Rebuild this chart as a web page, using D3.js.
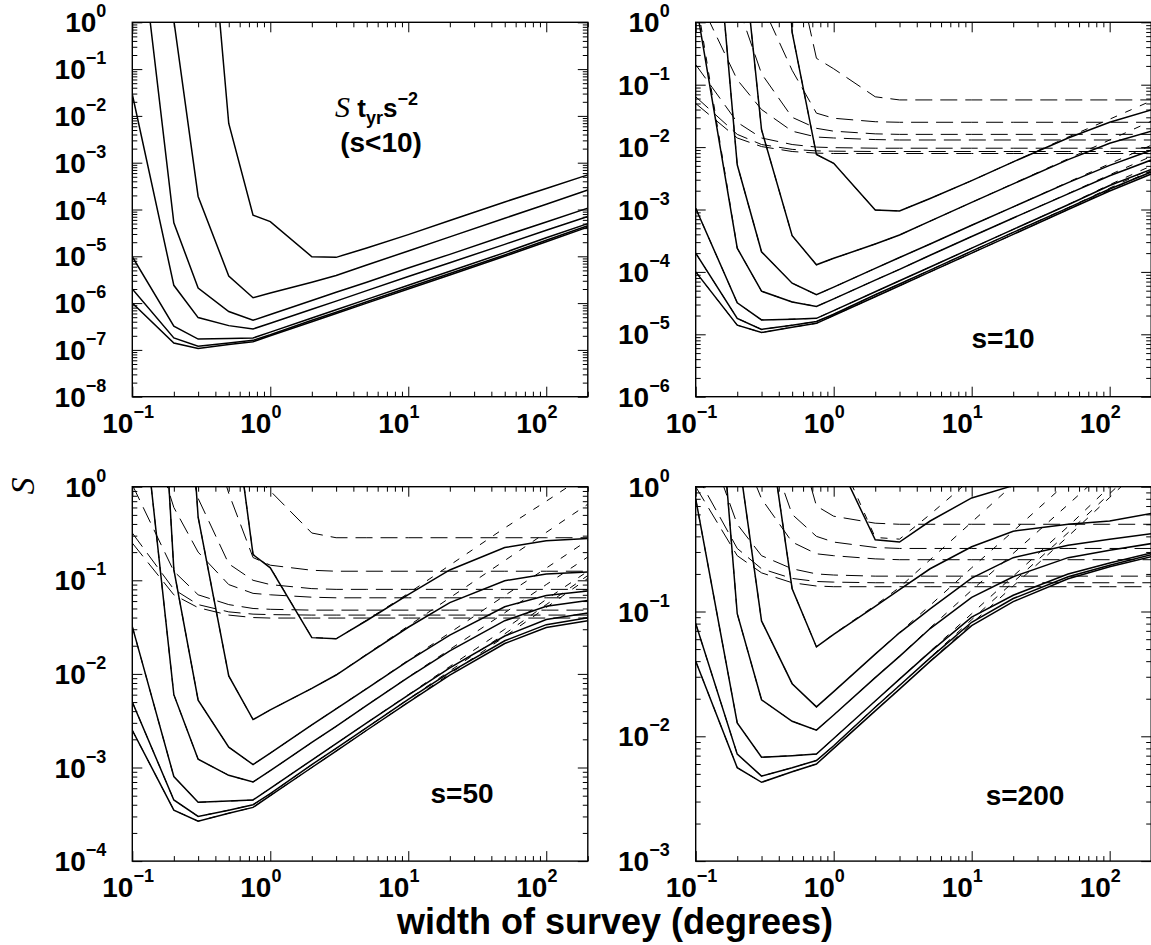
<!DOCTYPE html>
<html><head><meta charset="utf-8">
<script src="https://cdn.jsdelivr.net/npm/d3@7"></script>
<style>body{margin:0;background:#fff}svg{display:block}</style>
</head><body>
<script>
// survey widths (degrees) at which all curves are sampled
const widths = [0.1, 0.2, 0.3, 0.5, 0.75, 1, 2, 3, 5, 10, 20, 50, 100, 200];

// ---- panel (a): S t_yr s^-2, s<10 (solid curves) ----
const sLowSolid = [
  [1e9, 1e7, 2e5, 6.9e-3, 7.6e-5, 5.5e-5, 9.8e-6, 9.5e-6, 1.5e-5, 2.9e-5, 5.8e-5, 1.45e-4, 2.8e-4, 5.5e-4],
  [1e6, 1.1, 1.9e-4, 3.8e-6, 1.3e-6, 1.65e-6, 2.8e-6, 3.9e-6, 6.5e-6, 1.3e-5, 2.6e-5, 6.5e-5, 1.3e-4, 2.6e-4],
  [1.8e3, 5.2e-5, 2.1e-6, 6.6e-7, 4.3e-7, 5.7e-7, 1.14e-6, 1.7e-6, 2.8e-6, 5.6e-6, 1.1e-5, 2.75e-5, 5.4e-5, 1.07e-4],
  [2.9e-2, 2.4e-6, 4.9e-7, 3.3e-7, 2.8e-7, 3.7e-7, 7.4e-7, 1.1e-6, 1.85e-6, 3.7e-6, 7.3e-6, 1.8e-5, 3.6e-5, 7.1e-5],
  [9.8e-6, 3.2e-7, 1.7e-7, 1.75e-7, 1.8e-7, 2.4e-7, 4.8e-7, 7.2e-7, 1.2e-6, 2.4e-6, 4.8e-6, 1.2e-5, 2.5e-5, 5e-5],
  [2e-6, 1.8e-7, 1.2e-7, 1.4e-7, 1.6e-7, 2.1e-7, 4.3e-7, 6.4e-7, 1.07e-6, 2.15e-6, 4.3e-6, 1.07e-5, 2.2e-5, 4.5e-5],
  [1e-6, 1.4e-7, 1.07e-7, 1.3e-7, 1.5e-7, 2e-7, 4e-7, 6e-7, 1e-6, 2e-6, 4e-6, 1e-5, 2.05e-5, 4.2e-5]
];

// ---- panel (b): s=10 ----
const s10Solid = [
  [1e11, 1e9, 2e7, 0.69, 7.6e-3, 5.5e-3, 9.8e-4, 9.5e-4, 1.5e-3, 2.9e-3, 5.8e-3, 1.4e-2, 2.5e-2, 3.95e-2],
  [1e8, 110, 1.9e-2, 3.8e-4, 1.3e-4, 1.65e-4, 2.8e-4, 3.9e-4, 6.5e-4, 1.3e-3, 2.58e-3, 6.3e-3, 1.15e-2, 1.8e-2],
  [1.8e5, 5.2e-3, 2.1e-4, 6.6e-5, 4.3e-5, 5.7e-5, 1.14e-4, 1.7e-4, 2.8e-4, 5.6e-4, 1.1e-3, 2.7e-3, 5.1e-3, 8.9e-3],
  [2.1, 2.4e-4, 4.9e-5, 3.3e-5, 2.8e-5, 3.7e-5, 7.4e-5, 1.1e-4, 1.85e-4, 3.7e-4, 7.3e-4, 1.78e-3, 3.47e-3, 6.2e-3],
  [1.05e-3, 3.2e-5, 1.7e-5, 1.75e-5, 1.8e-5, 2.4e-5, 4.8e-5, 7.2e-5, 1.2e-4, 2.4e-4, 4.8e-4, 1.19e-3, 2.42e-3, 4.4e-3],
  [2e-4, 1.8e-5, 1.2e-5, 1.4e-5, 1.6e-5, 2.1e-5, 4.3e-5, 6.4e-5, 1.07e-4, 2.15e-4, 4.3e-4, 1.06e-3, 2.13e-3, 3.98e-3],
  [1e-4, 1.4e-5, 1.07e-5, 1.3e-5, 1.5e-5, 2e-5, 4e-5, 6e-5, 1e-4, 2e-4, 4e-4, 1e-3, 1.98e-3, 3.7e-3]
];
const s10Long = [
  [1e4, 1e3, 300, 15, 0.265, 0.18, 0.064, 0.057, 0.057, 0.057, 0.057, 0.057, 0.057, 0.057],
  [1e3, 50, 2, 0.17, 0.035, 0.029, 0.0255, 0.025, 0.025, 0.025, 0.025, 0.025, 0.025, 0.025],
  [1e5, 2, 0.15, 0.03, 0.02, 0.018, 0.0163, 0.016, 0.016, 0.016, 0.016, 0.016, 0.016, 0.016],
  [3, 0.12, 0.04, 0.018, 0.0145, 0.014, 0.0132, 0.013, 0.013, 0.013, 0.013, 0.013, 0.013, 0.013],
  [0.21, 0.025, 0.014, 0.011, 0.0100, 0.0098, 0.0096, 0.0096, 0.0096, 0.0096, 0.0096, 0.0096, 0.0096, 0.0096],
  [0.064, 0.016, 0.011, 0.0092, 0.0087, 0.0086, 0.0085, 0.0085, 0.0085, 0.0085, 0.0085, 0.0085, 0.0085, 0.0085],
  [0.05, 0.014, 0.0102, 0.0085, 0.008, 0.0079, 0.0079, 0.0079, 0.0079, 0.0079, 0.0079, 0.0079, 0.0079, 0.0079]
];
const s10Short = [
  [1e11, 1e9, 2e7, 0.69, 7.6e-3, 5.5e-3, 9.8e-4, 9.5e-4, 1.5e-3, 2.9e-3, 5.8e-3, 1.45e-2, 2.8e-2, 5.5e-2],
  [1e8, 110, 1.9e-2, 3.8e-4, 1.3e-4, 1.65e-4, 2.8e-4, 3.9e-4, 6.5e-4, 1.3e-3, 2.6e-3, 6.5e-3, 1.3e-2, 2.6e-2],
  [1.8e5, 5.2e-3, 2.1e-4, 6.6e-5, 4.3e-5, 5.7e-5, 1.14e-4, 1.7e-4, 2.8e-4, 5.6e-4, 1.1e-3, 2.75e-3, 5.4e-3, 1.07e-2],
  [2.9, 2.4e-4, 4.9e-5, 3.3e-5, 2.8e-5, 3.7e-5, 7.4e-5, 1.1e-4, 1.85e-4, 3.7e-4, 7.3e-4, 1.8e-3, 3.6e-3, 7.1e-3],
  [1.05e-3, 3.2e-5, 1.7e-5, 1.75e-5, 1.8e-5, 2.4e-5, 4.8e-5, 7.2e-5, 1.2e-4, 2.4e-4, 4.8e-4, 1.2e-3, 2.5e-3, 5e-3],
  [2e-4, 1.8e-5, 1.2e-5, 1.4e-5, 1.6e-5, 2.1e-5, 4.3e-5, 6.4e-5, 1.07e-4, 2.15e-4, 4.3e-4, 1.07e-3, 2.2e-3, 4.5e-3],
  [1e-4, 1.4e-5, 1.07e-5, 1.3e-5, 1.5e-5, 2e-5, 4e-5, 6e-5, 1e-4, 2e-4, 4e-4, 1e-3, 2.05e-3, 4.2e-3]
];

// ---- panel (c): s=50 ----
const s50Solid = [
  [2.5e12, 2.5e10, 5e8, 17.25, 0.188, 0.136, 0.0244, 0.0237, 0.0372, 0.0703, 0.129, 0.224, 0.264, 0.279],
  [2.5e9, 2750, 0.474, 9.5e-3, 3.25e-3, 4.12e-3, 7e-3, 9.73e-3, 1.61e-2, 3.15e-2, 5.77e-2, 9.9e-2, 0.117, 0.123],
  [4.5e6, 0.13, 5.25e-3, 1.65e-3, 1.075e-3, 1.425e-3, 2.85e-3, 4.24e-3, 6.97e-3, 1.38e-2, 2.6e-2, 5.22e-2, 6.89e-2, 7.67e-2],
  [72.5, 6e-3, 1.225e-3, 8.25e-4, 7e-4, 9.25e-4, 1.85e-3, 2.75e-3, 4.61e-3, 9.16e-3, 1.76e-2, 3.7e-2, 5.27e-2, 6.1e-2],
  [3.2e-2, 8e-4, 4.25e-4, 4.375e-4, 4.5e-4, 6e-4, 1.2e-3, 1.8e-3, 2.99e-3, 5.95e-3, 1.16e-2, 2.54e-2, 3.81e-2, 4.48e-2],
  [5e-3, 4.5e-4, 3e-4, 3.5e-4, 4e-4, 5.25e-4, 1.075e-3, 1.6e-3, 2.67e-3, 5.33e-3, 1.04e-2, 2.26e-2, 3.36e-2, 3.97e-2],
  [2.5e-3, 3.5e-4, 2.675e-4, 3.25e-4, 3.75e-4, 5e-4, 1e-3, 1.5e-3, 2.5e-3, 4.96e-3, 9.7e-3, 2.11e-2, 3.13e-2, 3.7e-2]
];
const s50Long = [
  [5e4, 5e3, 1500, 75, 1.33, 0.9, 0.32, 0.285, 0.285, 0.285, 0.285, 0.285, 0.285, 0.285],
  [5e3, 250, 10, 0.85, 0.175, 0.145, 0.128, 0.125, 0.125, 0.125, 0.125, 0.125, 0.125, 0.125],
  [5e5, 10, 0.75, 0.15, 0.1, 0.09, 0.0815, 0.08, 0.08, 0.08, 0.08, 0.08, 0.08, 0.08],
  [15, 0.6, 0.2, 0.09, 0.0725, 0.07, 0.066, 0.065, 0.065, 0.065, 0.065, 0.065, 0.065, 0.065],
  [1.05, 0.125, 0.07, 0.055, 0.05, 0.049, 0.048, 0.048, 0.048, 0.048, 0.048, 0.048, 0.048, 0.048],
  [0.32, 0.08, 0.055, 0.046, 0.0435, 0.043, 0.0425, 0.0425, 0.0425, 0.0425, 0.0425, 0.0425, 0.0425, 0.0425],
  [0.25, 0.07, 0.051, 0.0425, 0.04, 0.0395, 0.0395, 0.0395, 0.0395, 0.0395, 0.0395, 0.0395, 0.0395, 0.0395]
];
const s50Short = [
  [2.5e12, 2.5e10, 5e8, 17.25, 0.19, 0.1375, 0.0245, 0.02375, 0.0375, 0.0725, 0.145, 0.3625, 0.7, 1.375],
  [2.5e9, 2750, 0.475, 9.5e-3, 3.25e-3, 4.125e-3, 7e-3, 9.75e-3, 1.625e-2, 3.25e-2, 6.5e-2, 0.1625, 0.325, 0.65],
  [4.5e6, 0.13, 5.25e-3, 1.65e-3, 1.075e-3, 1.425e-3, 2.85e-3, 4.25e-3, 7e-3, 1.4e-2, 2.75e-2, 6.875e-2, 0.135, 0.2675],
  [72.5, 6e-3, 1.225e-3, 8.25e-4, 7e-4, 9.25e-4, 1.85e-3, 2.75e-3, 4.625e-3, 9.25e-3, 1.825e-2, 4.5e-2, 9e-2, 0.1775],
  [3.2e-2, 8e-4, 4.25e-4, 4.375e-4, 4.5e-4, 6e-4, 1.2e-3, 1.8e-3, 3e-3, 6e-3, 1.2e-2, 3e-2, 6.25e-2, 0.125],
  [5e-3, 4.5e-4, 3e-4, 3.5e-4, 4e-4, 5.25e-4, 1.075e-3, 1.6e-3, 2.675e-3, 5.375e-3, 1.075e-2, 2.675e-2, 5.5e-2, 0.1125],
  [2.5e-3, 3.5e-4, 2.675e-4, 3.25e-4, 3.75e-4, 5e-4, 1e-3, 1.5e-3, 2.5e-3, 5e-3, 1e-2, 2.5e-2, 5.125e-2, 0.105]
];

// ---- panel (d): s=200 ----
const s200Solid = [
  [4e13, 4e11, 8e9, 276, 2.64, 1.88, 0.375, 0.36, 0.531, 0.813, 1.02, 1.12, 1.13, 1.14],
  [4e10, 4.4e4, 7.47, 0.152, 0.052, 0.0656, 0.11, 0.15, 0.22, 0.33, 0.44, 0.5, 0.53, 0.61],
  [7.2e7, 2.08, 0.084, 0.0264, 0.0172, 0.0228, 0.0455, 0.0675, 0.105, 0.185, 0.27, 0.34, 0.38, 0.42],
  [1160, 0.096, 0.0196, 0.0132, 0.0112, 0.0148, 0.0295, 0.0437, 0.073, 0.13, 0.19, 0.27, 0.31, 0.35],
  [0.8, 0.0128, 0.0068, 0.007, 0.0072, 0.0096, 0.0192, 0.0287, 0.0475, 0.09, 0.135, 0.2, 0.245, 0.295],
  [0.08, 0.0072, 0.0048, 0.0056, 0.0064, 0.0084, 0.0171, 0.0255, 0.0425, 0.082, 0.127, 0.19, 0.235, 0.285],
  [0.04, 0.0056, 0.00428, 0.0052, 0.006, 0.008, 0.016, 0.0239, 0.0398, 0.077, 0.12, 0.183, 0.228, 0.275]
];
const s200Long = [
  [2e5, 2e4, 6e3, 300, 5.3, 3.6, 1.28, 1.14, 1.14, 1.14, 1.14, 1.14, 1.14, 1.14],
  [2e4, 1e3, 40, 3.4, 0.7, 0.58, 0.51, 0.5, 0.5, 0.5, 0.5, 0.5, 0.5, 0.5],
  [2e6, 40, 3, 0.6, 0.4, 0.36, 0.326, 0.32, 0.32, 0.32, 0.32, 0.32, 0.32, 0.32],
  [60, 2.4, 0.8, 0.36, 0.29, 0.28, 0.264, 0.26, 0.26, 0.26, 0.26, 0.26, 0.26, 0.26],
  [4.2, 0.5, 0.28, 0.22, 0.2, 0.196, 0.192, 0.192, 0.192, 0.192, 0.192, 0.192, 0.192, 0.192],
  [1.28, 0.32, 0.22, 0.184, 0.174, 0.172, 0.17, 0.17, 0.17, 0.17, 0.17, 0.17, 0.17, 0.17],
  [1.0, 0.28, 0.204, 0.17, 0.16, 0.158, 0.158, 0.158, 0.158, 0.158, 0.158, 0.158, 0.158, 0.158]
];
const s200Short = [
  [4e13, 4e11, 8e9, 276, 3.04, 2.2, 0.392, 0.38, 0.6, 1.16, 2.32, 5.8, 11.2, 22],
  [4e10, 4.4e4, 7.6, 0.152, 0.052, 0.066, 0.112, 0.156, 0.26, 0.52, 1.04, 2.6, 5.2, 10.4],
  [7.2e7, 2.08, 0.084, 0.0264, 0.0172, 0.0228, 0.0456, 0.068, 0.112, 0.224, 0.44, 1.1, 2.16, 4.28],
  [1160, 0.096, 0.0196, 0.0132, 0.0112, 0.0148, 0.0296, 0.044, 0.074, 0.148, 0.292, 0.72, 1.44, 2.84],
  [0.8, 0.0128, 0.0068, 0.007, 0.0072, 0.0096, 0.0192, 0.0288, 0.048, 0.096, 0.192, 0.48, 1.0, 2.0],
  [0.08, 0.0072, 0.0048, 0.0056, 0.0064, 0.0084, 0.0172, 0.0256, 0.0428, 0.086, 0.172, 0.428, 0.88, 1.8],
  [0.04, 0.0056, 0.00428, 0.0052, 0.006, 0.008, 0.016, 0.024, 0.04, 0.08, 0.16, 0.4, 0.82, 1.68]
];

// axis decades
const xDecades = [-1, 0, 1, 2];
const panelTags = ["s=10", "s=50", "s=200"];

// ------------------------------------------------------------------
const W = 1151, H = 945, PW = 455.5, PH = 374.4;
const SANS = "'Liberation Sans', Arial, Helvetica, sans-serif";
const SERIF = "'Liberation Serif', 'Times New Roman', serif";
const svg = d3.select("body").append("svg").attr("width", W).attr("height", H)
  .style("font-family", SANS);

const panels = [
  {id: "a", left: 132.3, top: 22.3, ymin: 1e-8, solid: sLowSolid, longD: [], shortD: [], tag: null},
  {id: "b", left: 695.7, top: 22.3, ymin: 1e-6, solid: s10Solid, longD: s10Long, shortD: s10Short, tag: panelTags[0], tx: 1003, ty: 348},
  {id: "c", left: 132.3, top: 486.7, ymin: 1e-4, solid: s50Solid, longD: s50Long, shortD: s50Short, tag: panelTags[1], tx: 462, ty: 803},
  {id: "d", left: 695.7, top: 486.7, ymin: 1e-3, solid: s200Solid, longD: s200Long, shortD: s200Short, tag: panelTags[2], tx: 1025, ty: 805}
];

const LBL = 28, SUP = 18;
function supLabel(sel, e) {
  sel.append("tspan").text("10");
  sel.append("tspan").attr("font-size", SUP).attr("dy", -15).text(e < 0 ? "\u2212" + (-e) : String(e));
}

panels.forEach(p => {
  const x = d3.scaleLog().domain([0.1, 200]).range([p.left, p.left + PW]);
  const y = d3.scaleLog().domain([p.ymin, 1]).range([p.top + PH, p.top]);
  const clipId = "clip-" + p.id;
  svg.append("clipPath").attr("id", clipId).append("rect")
    .attr("x", p.left).attr("y", p.top).attr("width", PW).attr("height", PH);
  const g = svg.append("g").attr("clip-path", `url(#${clipId})`);
  const line = d3.line().x((d, i) => x(widths[i])).y(d => y(d));

  g.selectAll("path.ld").data(p.longD).join("path").attr("class", "ld")
    .attr("d", line).attr("fill", "none").attr("stroke", "#000")
    .attr("stroke-width", 1).attr("stroke-dasharray", "17,8");
  g.selectAll("path.sd").data(p.shortD).join("path").attr("class", "sd")
    .attr("d", line).attr("fill", "none").attr("stroke", "#000")
    .attr("stroke-width", 1).attr("stroke-dasharray", "7,9");
  g.selectAll("path.so").data(p.solid).join("path").attr("class", "so")
    .attr("d", line).attr("fill", "none").attr("stroke", "#000")
    .attr("stroke-width", 1.5).attr("stroke-linejoin", "miter");

  // ticks
  const xMajor = xDecades.map(e => Math.pow(10, e));
  const xMinor = [];
  xDecades.forEach(e => { for (let m = 2; m <= 9; m++) { const v = m * Math.pow(10, e); if (v <= 200.0001) xMinor.push(v); } });
  const e0 = Math.round(Math.log10(p.ymin));
  const yDec = d3.range(e0, 1);
  const yMajor = yDec.map(e => Math.pow(10, e));
  const yMinor = [];
  yDec.slice(0, -1).forEach(e => { for (let m = 2; m <= 9; m++) yMinor.push(m * Math.pow(10, e)); });

  const addAxis = (axisFn, scale, vals, size, tx, ty) => {
    svg.append("g").attr("transform", `translate(${tx},${ty})`)
      .call(axisFn(scale).tickValues(vals).tickSize(size).tickFormat(""))
      .call(a => a.select(".domain").remove())
      .selectAll("line").attr("stroke", "#000").attr("stroke-width", 1);
  };
  addAxis(d3.axisBottom, x, xMajor, -10, 0, p.top + PH);
  addAxis(d3.axisBottom, x, xMinor, -5, 0, p.top + PH);
  addAxis(d3.axisTop, x, xMajor, -10, 0, p.top);
  addAxis(d3.axisTop, x, xMinor, -5, 0, p.top);
  addAxis(d3.axisLeft, y, yMajor, -10, p.left, 0);
  addAxis(d3.axisLeft, y, yMinor, -5, p.left, 0);
  addAxis(d3.axisRight, y, yMajor, -10, p.left + PW, 0);
  addAxis(d3.axisRight, y, yMinor, -5, p.left + PW, 0);

  svg.append("rect").attr("x", p.left).attr("y", p.top).attr("width", PW).attr("height", PH)
    .attr("fill", "none").attr("stroke", "#000").attr("stroke-width", 1.4);

  // y labels
  yDec.forEach(e => {
    const t = svg.append("text").attr("x", p.left - 26).attr("y", y(Math.pow(10, e)) + 10)
      .attr("text-anchor", "end").attr("font-weight", "bold").attr("font-size", LBL);
    supLabel(t, e);
  });
  // x labels: the "10" ends at the tick, exponent to its right
  xDecades.forEach(e => {
    const t = svg.append("text").attr("x", x(Math.pow(10, e)) - 30)
      .attr("y", p.top + PH + 36)
      .attr("text-anchor", "start").attr("font-weight", "bold").attr("font-size", LBL);
    supLabel(t, e);
  });

  if (p.tag) {
    svg.append("text").attr("x", p.tx).attr("y", p.ty).attr("text-anchor", "middle")
      .attr("font-weight", "bold").attr("font-size", 28).text(p.tag);
  }
});

// panel (a) annotation
const ann = svg.append("text").attr("x", 335).attr("y", 117)
  .attr("font-weight", "bold").attr("font-size", 26);
ann.append("tspan").attr("font-family", SERIF).attr("font-style", "italic")
  .attr("font-weight", "normal").attr("font-size", 30).text("S");
ann.append("tspan").text(" t");
ann.append("tspan").attr("font-size", 18).attr("dy", 7).text("yr");
ann.append("tspan").attr("dy", -7).text("s");
ann.append("tspan").attr("font-size", 18).attr("dy", -12).text("\u22122");
svg.append("text").attr("x", 381).attr("y", 152).attr("text-anchor", "middle")
  .attr("font-weight", "bold").attr("font-size", 28).text("(s<10)");

// axis titles
svg.append("text").attr("transform", "translate(34,486) rotate(-90)")
  .attr("text-anchor", "middle").attr("font-family", SERIF).attr("font-style", "italic")
  .attr("font-size", 34).text("S");
svg.append("text").attr("x", 615).attr("y", 934).attr("text-anchor", "middle")
  .attr("font-weight", "bold").attr("font-size", 36).text("width of survey (degrees)");
</script>
</body></html>
